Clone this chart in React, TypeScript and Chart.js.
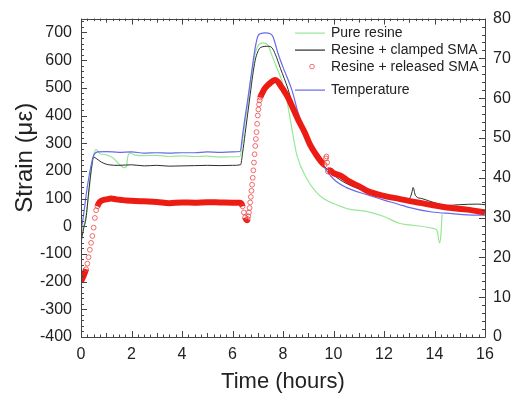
import React, { useEffect, useRef } from 'react';
import { Chart, registerables } from 'chart.js';

Chart.register(...registerables);

// ---- data ----
const seriesLabels = ['Pure resine', 'Resine + clamped SMA', 'Resine + released SMA', 'Temperature'];

const pureTime = [0, 0.2, 0.3, 0.4, 0.5, 0.6, 0.75, 1.0, 1.3, 1.5, 1.7, 1.8, 1.85, 1.95, 2.1, 2.5, 3, 3.5, 4, 4.5, 5, 5.5, 6, 6.3, 6.4, 6.5, 6.6, 6.7, 6.8, 6.9, 7.0, 7.2, 7.4, 7.55, 7.7, 7.9, 8.1, 8.3, 8.55, 8.95, 9.3, 9.6, 10.0, 10.65, 11.3, 12.0, 12.6, 13.0, 13.5, 13.9, 14.1, 14.2, 14.25, 14.3];
const pureStrain = [-30, 40, 110, 195, 255, 278, 262, 258, 245, 225, 212, 215, 250, 265, 258, 255, 256, 252, 254, 252, 253, 250, 251, 252, 310, 380, 440, 510, 575, 625, 650, 662, 655, 620, 585, 540, 480, 380, 257, 171, 125, 100, 82, 61, 54, 35, 11, 5, 0, -7, -15, -60, -35, 43];

const clampTime = [0, 0.1, 0.2, 0.3, 0.4, 0.5, 0.6, 0.8, 1.1, 1.5, 2, 2.5, 3, 3.5, 4, 4.5, 5, 5.5, 6, 6.32, 6.4, 6.5, 6.6, 6.7, 6.8, 6.9, 7.0, 7.1, 7.4, 7.56, 7.7, 7.9, 8.2, 8.5, 8.87, 9.2, 9.5, 10, 10.5, 11.3, 12, 12.6, 13.0, 13.1, 13.15, 13.25, 13.5, 14, 14.5, 15, 15.7, 16];
const clampStrain = [-60, -10, 30, 120, 200, 250, 245, 232, 222, 220, 222, 218, 220, 217, 218, 219, 220, 219, 220, 222, 265, 335, 405, 475, 545, 600, 630, 645, 650, 645, 620, 570, 495, 400, 320, 265, 230, 185, 155, 125, 105, 95, 100, 120, 140, 110, 100, 85, 75, 78, 80, 78];

const releasedTime = [0, 0.05, 0.1, 0.15, 0.2, 0.25, 0.3, 0.35, 0.4, 0.45, 0.5, 0.55, 0.6, 0.65, 0.7, 0.75, 0.8, 0.9, 1.0, 1.2, 1.4, 1.6, 1.8, 2.0, 2.5, 3.0, 3.5, 4.0, 4.5, 5.0, 5.5, 6.0, 6.3, 6.35, 6.4, 6.45, 6.5, 6.55, 6.575, 6.6, 6.625, 6.65, 6.675, 6.7, 6.725, 6.75, 6.775, 6.8, 6.825, 6.85, 6.875, 6.9, 6.925, 6.95, 6.975, 7.0, 7.025, 7.05, 7.075, 7.1, 7.15, 7.2, 7.3, 7.4, 7.5, 7.6, 7.7, 7.8, 7.9, 8.0, 8.2, 8.4, 8.6, 8.87, 9.07, 9.3, 9.5, 9.65, 9.7, 9.72, 9.75, 9.78, 9.82, 9.9, 10.0, 10.3, 10.6, 11.0, 11.4, 12.0, 12.6, 13.2, 13.9, 14.6, 15.3, 16.0];
const releasedStrain = [-200, -190, -180, -168, -155, -135, -112, -85, -60, -35, -5, 30, 58, 72, 82, 88, 92, 95, 97, 100, 97, 95, 93, 92, 90, 88, 83, 86, 85, 87, 86, 85, 85, 82, 72, 50, 32, 24, 22, 26, 36, 50, 66, 86, 106, 128, 150, 175, 202, 230, 260, 290, 315, 340, 370, 400, 422, 440, 455, 465, 476, 485, 500, 510, 518, 525, 528, 522, 508, 495, 465, 425, 385, 337, 295, 260, 235, 222, 245, 252, 230, 198, 202, 200, 192, 182, 163, 145, 125, 110, 99, 88, 77, 67, 60, 50];

const tempTime = [0, 0.1, 0.2, 0.3, 0.4, 0.5, 0.66, 1, 1.5, 2, 2.5, 3, 3.5, 4, 4.5, 5, 5.5, 6, 6.3, 6.4, 6.5, 6.6, 6.7, 6.8, 6.9, 7.0, 7.1, 7.3, 7.5, 7.6, 7.8, 8.0, 8.36, 8.6, 8.87, 9.2, 9.47, 10, 10.5, 11.3, 12, 12.6, 12.9, 13.9, 14.7, 15.3, 16];
const tempValue = [26.6, 30.6, 35.5, 39.7, 43.1, 45.6, 46.5, 46.6, 46.4, 46.5, 46.2, 46.3, 46.2, 46.3, 46.3, 46.5, 46.4, 46.5, 46.6, 50.8, 55.3, 59.5, 64.0, 68.5, 72.7, 75.5, 76.2, 76.4, 76.2, 75.5, 71.3, 67.8, 61.9, 56.3, 51.5, 47.0, 44.2, 39.7, 37.6, 35.8, 34.4, 33.3, 32.7, 31.4, 31.0, 30.7, 30.6];

const strainRange = [-400, 750];
const tempRange = [0, 80];
const timeRange = [0, 16];

const xTitle = 'Time (hours)';
const yTitle = 'Strain (\u03bc\u03b5)';

const FONT = "'Liberation Sans', Arial, sans-serif";
const INK = '#222';
const GREEN = 'rgb(150,232,150)';
const BLACK = 'rgb(45,45,45)';
const RED = 'rgb(236,28,20)';
const RED_PT = 'rgba(236,60,60,0.75)';
const BLUE = 'rgb(105,105,235)';

const zip = (xs: number[], ys: number[]) => xs.map((x, i) => ({ x, y: ys[i] }));

const framePlugin = {
  id: 'frameTicks',
  afterDatasetsDraw(chart: any) {
    const { ctx, chartArea: a, scales } = chart;
    const xs = scales.x, ys = scales.y, y1 = scales.y1;
    ctx.save();
    ctx.strokeStyle = '#444';
    ctx.lineWidth = 1;
    ctx.beginPath();
    ctx.rect(Math.round(a.left) + 0.5, Math.round(a.top) + 0.5, Math.round(a.right - a.left), Math.round(a.bottom - a.top));
    for (let v = strainRange[0]; v <= 740; v += 20) {
      const p = Math.round(ys.getPixelForValue(v)) + 0.5;
      const L = v % 100 === 0 ? 6 : 3;
      ctx.moveTo(a.left, p);
      ctx.lineTo(a.left + L, p);
    }
    for (let v = tempRange[0]; v <= tempRange[1]; v += 2) {
      const p = Math.round(y1.getPixelForValue(v)) + 0.5;
      const L = v % 10 === 0 ? 6 : 3;
      ctx.moveTo(a.right, p);
      ctx.lineTo(a.right - L, p);
    }
    for (let k = 0; k <= 64; k++) {
      const p = Math.round(xs.getPixelForValue(k * 0.25)) + 0.5;
      const L = k % 8 === 0 ? 6 : k % 4 === 0 ? 4 : 2.5;
      ctx.moveTo(p, a.bottom);
      ctx.lineTo(p, a.bottom - L);
      ctx.moveTo(p, a.top);
      ctx.lineTo(p, a.top + L);
    }
    ctx.stroke();
    ctx.restore();
  },
  afterDraw(chart: any) {
    const { ctx, chartArea: a } = chart;
    ctx.save();
    ctx.fillStyle = INK;
    ctx.font = `24px ${FONT}`;
    ctx.textAlign = 'center';
    ctx.textBaseline = 'middle';
    ctx.translate(25, (a.top + a.bottom) / 2 - 20);
    ctx.rotate(-Math.PI / 2);
    ctx.fillText(yTitle, 0, 0);
    ctx.restore();

    ctx.save();
    const lx = a.left + 214;
    const tx = a.left + 250;
    const rows = [a.top + 14, a.top + 31, a.top + 48, a.top + 71];
    const colors = [GREEN, BLACK, RED_PT, BLUE];
    ctx.font = `14px ${FONT}`;
    ctx.textAlign = 'left';
    ctx.textBaseline = 'middle';
    seriesLabels.forEach((label, i) => {
      const y = rows[i];
      if (i === 2) {
        ctx.beginPath();
        ctx.strokeStyle = colors[i];
        ctx.lineWidth = 1;
        ctx.arc(lx + 17, y, 2.3, 0, Math.PI * 2);
        ctx.stroke();
      } else {
        ctx.beginPath();
        ctx.strokeStyle = colors[i];
        ctx.lineWidth = 1.2;
        ctx.moveTo(lx, y + 0.5);
        ctx.lineTo(lx + 30, y + 0.5);
        ctx.stroke();
      }
      ctx.fillStyle = INK;
      ctx.fillText(label, tx, y + 1);
    });
    ctx.restore();
  },
};

export default function App() {
  const ref = useRef<HTMLCanvasElement | null>(null);

  useEffect(() => {
    if (!ref.current) return;
    const steepPx = (x0: number, y0: number, x1: number, y1: number) => Math.abs(y1 - y0) > 3 * Math.abs(x1 - x0);
    const steepSeg = (c: any) => steepPx(c.p0.x, c.p0.y, c.p1.x, c.p1.y);
    const steepIdx = (chart: any, i: number, j: number) => {
      const sx = chart.scales.x, sy = chart.scales.y;
      if (!sx || !sy) return true;
      return steepPx(
        sx.getPixelForValue(releasedTime[i]), sy.getPixelForValue(releasedStrain[i]),
        sx.getPixelForValue(releasedTime[j]), sy.getPixelForValue(releasedStrain[j])
      );
    };
    const redRadius = (c: any) => {
      const i = c.dataIndex;
      if (i === undefined) return 2.4;
      const n = releasedTime.length;
      const prev = i > 0 && steepIdx(c.chart, i - 1, i);
      const next = i < n - 1 && steepIdx(c.chart, i, i + 1);
      return prev || next ? 2.4 : 0;
    };
    const chart = new Chart(ref.current, {
      type: 'line',
      data: {
        datasets: [
          {
            label: seriesLabels[0],
            data: zip(pureTime, pureStrain),
            borderColor: GREEN,
            borderWidth: 1.2,
            pointRadius: 0,
            cubicInterpolationMode: 'monotone',
            yAxisID: 'y',
            order: 3,
          },
          {
            label: seriesLabels[1],
            data: zip(clampTime, clampStrain),
            borderColor: BLACK,
            borderWidth: 1,
            pointRadius: 0,
            cubicInterpolationMode: 'monotone',
            yAxisID: 'y',
            order: 2,
          },
          {
            label: seriesLabels[2],
            data: zip(releasedTime, releasedStrain),
            borderColor: RED,
            borderWidth: 6,
            pointRadius: redRadius,
            pointBorderWidth: 1,
            pointBorderColor: RED_PT,
            pointBackgroundColor: 'rgba(0,0,0,0)',
            cubicInterpolationMode: 'monotone',
            segment: {
              borderColor: (c: any) => (steepSeg(c) ? 'rgba(0,0,0,0)' : RED),
            },
            yAxisID: 'y',
            order: 0,
          },
          {
            label: seriesLabels[3],
            data: zip(tempTime, tempValue),
            borderColor: BLUE,
            borderWidth: 1.2,
            pointRadius: 0,
            cubicInterpolationMode: 'monotone',
            yAxisID: 'y1',
            order: 1,
          },
        ],
      },
      options: {
        animation: false,
        responsive: true,
        maintainAspectRatio: false,
        events: [],
        layout: { padding: { top: 15, right: 0, left: 0, bottom: 0 } },
        plugins: {
          legend: { display: false },
          tooltip: { enabled: false },
        },
        scales: {
          x: {
            type: 'linear',
            min: timeRange[0],
            max: timeRange[1],
            grid: { display: false, drawTicks: false },
            border: { display: false },
            ticks: { stepSize: 2, padding: 8, color: INK, font: { family: FONT, size: 16 } },
            title: { display: true, text: xTitle, color: INK, font: { family: FONT, size: 22 }, padding: { top: 0, bottom: 1 } },
            afterFit: (s: any) => { s.height = 59; },
          },
          y: {
            type: 'linear',
            position: 'left',
            min: strainRange[0],
            max: strainRange[1],
            grid: { display: false, drawTicks: false },
            border: { display: false },
            ticks: { stepSize: 100, includeBounds: false, padding: 9, color: INK, font: { family: FONT, size: 16 } },
            afterFit: (s: any) => { s.width = 81; },
          },
          y1: {
            type: 'linear',
            position: 'right',
            min: tempRange[0],
            max: tempRange[1],
            grid: { display: false, drawTicks: false },
            border: { display: false },
            ticks: { stepSize: 10, padding: 8, color: INK, font: { family: FONT, size: 16 } },
            afterFit: (s: any) => { s.width = 30; },
          },
        },
      },
      plugins: [framePlugin],
    } as any);
    return () => chart.destroy();
  }, []);

  return (
    <div style={{ position: 'fixed', left: 0, top: 0, width: 515, height: 396, background: '#fff' }}>
      <canvas ref={ref} />
    </div>
  );
}
